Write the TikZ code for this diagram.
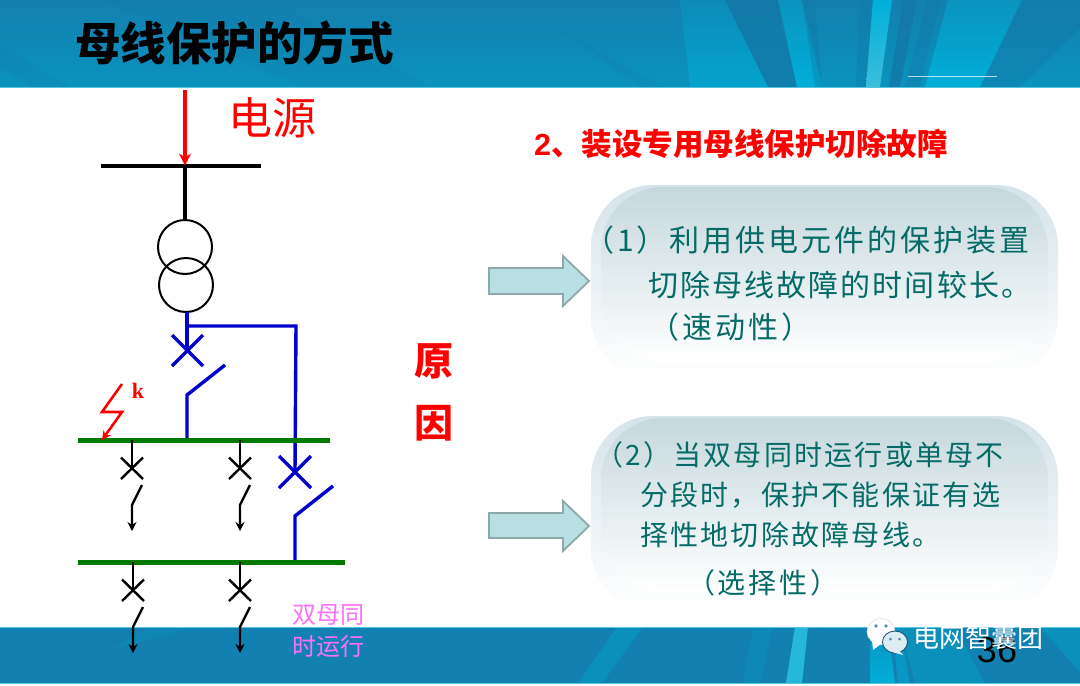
\documentclass[tikz,border=0pt]{standalone}
\usepackage{fontspec}
\setmainfont{Noto Sans CJK SC}
\newfontfamily\numf{Liberation Sans}
\newfontfamily\kf{Liberation Serif}
\usetikzlibrary{arrows.meta}
\definecolor{bandA}{HTML}{1280B0}
\definecolor{bandB}{HTML}{0A93BE}
\definecolor{rayL}{HTML}{00AFD9}
\definecolor{rayD}{HTML}{1278A8}
\definecolor{edgeL}{HTML}{55C4DE}
\definecolor{txtT}{HTML}{056B66}
\definecolor{boxT}{HTML}{C5D8DC}
\definecolor{boxO}{HTML}{D5E3EA}
\definecolor{arrF}{HTML}{B8DFE1}
\definecolor{arrE}{HTML}{8FA9AB}
\definecolor{pinkT}{HTML}{FF70F8}
\definecolor{busG}{HTML}{007A00}
\definecolor{blueL}{HTML}{0000CC}
\tikzset{
  sizeT/.style={font=\fontsize{#1}{#1}\selectfont},
  bodyA/.style={anchor=west,inner sep=0pt,text=txtT,font=\fontsize{30}{32}\selectfont\addfontfeature{LetterSpace=#1}},
  bodyB/.style={anchor=west,inner sep=0pt,text=txtT,font=\fontsize{28}{30}\selectfont\addfontfeature{LetterSpace=#1}},
  busbar/.style={draw=busG,line width=5pt},
  blk/.style={draw=black,line width=2.4pt},
  blu/.style={draw=blueL,line width=3.4pt},
  feed/.style={blk,-{Stealth[length=9pt,width=9pt]}},
  blockarrow/.style={fill=arrF,draw=arrE,line width=1.8pt,line join=miter},
  rounded/.style={rounded corners=62pt}
}
\begin{document}
\begin{tikzpicture}[x=1pt,y=-1pt]
\useasboundingbox (0,0) rectangle (1080,686);
\fill[white] (0,0) rectangle (1080,686);
% top band
\begin{scope}
\clip (0,0) rectangle (1080,87);
\shade[top color=bandA,bottom color=bandB] (0,0) rectangle (1080,87);
\fill[rayD,opacity=.2] (0,45) -- (70,87) -- (30,87) -- (0,68) -- cycle;
\fill[rayD,opacity=.18] (100,0) -- (270,0) -- (430,87) -- (300,87) -- cycle;
\fill[rayD,opacity=.2] (560,30) -- (640,87) -- (665,87) -- cycle;
\shade[top color=bandB,bottom color=rayL,opacity=.6] (690,87) -- (680,0) -- (725,0) -- (768,87) -- cycle;
\fill[rayD,opacity=.75] (725,0) -- (778,0) -- (797,87) -- (768,87) -- cycle;
\shade[top color=bandB,bottom color=rayL] (778,0) -- (802,0) -- (822,87) -- (797,87) -- cycle;
\fill[rayD,opacity=.4] (802,0) -- (815,0) -- (822,87) -- (815,87) -- cycle;
\fill[rayD,opacity=.4] (860,0) -- (872,0) -- (866,87) -- (856,87) -- cycle;
\shade[top color=rayL,bottom color=edgeL!70!rayL] (873,0) -- (892,0) -- (880,87) -- (866,87) -- cycle;
\fill[rayD,opacity=.8] (903,0) -- (917,0) -- (900,87) -- (889,87) -- cycle;
\fill[rayD,opacity=.4] (927,0) -- (940,0) -- (920,87) -- (905,87) -- cycle;
\shade[top color=bandB,bottom color=rayL] (948,0) -- (1022,0) -- (980,87) -- (925,87) -- cycle;
\fill[rayD,opacity=.4] (1022,0) -- (1080,0) -- (1080,28) -- (1020,87) -- (980,87) -- cycle;
\end{scope}
\draw[edgeL,line width=1pt] (0,87) -- (1080,87);
\draw[white,opacity=.7,line width=1pt] (908,76) -- (997,76);
% bottom band
\begin{scope}
\clip (0,627) rectangle (1080,683);
\fill[bandA] (0,627) rectangle (1080,683);
\fill[bandB,opacity=.4] (110,650) -- (195,627) -- (150,627) -- cycle;
\fill[bandB,opacity=.8] (578,683) -- (617,627) -- (643,627) -- (602,683) -- cycle;
\fill[bandB,opacity=.45] (742,683) -- (753,627) -- (773,627) -- (760,683) -- cycle;
\fill[edgeL!45!rayL] (786,683) -- (795,627) -- (808,627) -- (802,683) -- cycle;
\shade[top color=bandB,bottom color=rayL] (870,683) -- (870,627) -- (888,627) -- (895,683) -- cycle;
\fill[rayL,opacity=.5] (898,683) -- (892,627) -- (900,627) -- (910,683) -- cycle;
\fill[bandB,opacity=.8] (915,683) -- (900,627) -- (955,627) -- (985,683) -- cycle;
\fill[bandB,opacity=.8] (1040,627) -- (1080,627) -- (1080,672) -- cycle;
\end{scope}
\draw[edgeL,line width=.8pt] (0,627) -- (1080,627);
\draw[edgeL,line width=.8pt] (0,683) -- (1080,683);
% title & headings
\node[inner sep=0pt,anchor=west,font=\fontsize{45.5}{46}\bfseries\selectfont] (title) at (75,43) {母线保护的方式};
\node[inner sep=0pt,sizeT=44,text=red,anchor=west] (src) at (228,118) {电源};
\node[inner sep=0pt,text=red,anchor=west,font=\fontsize{30.5}{32}\bfseries\selectfont] (head) at (534,144) {{\numf 2}、装设专用母线保护切除故障};
\node[inner sep=0pt,text=red,font=\fontsize{39}{40}\bfseries\selectfont] (why1) at (434,361) {原};
\node[inner sep=0pt,text=red,font=\fontsize{39}{40}\bfseries\selectfont] (why2) at (434,423) {因};
% boxes
\shade[rounded,top color=boxO,middle color=boxO!55!white,bottom color=white] (591,185) rectangle (1058,378);
\shade[rounded,top color=boxT,bottom color=white] (601,187) rectangle (1048,362);
\shade[rounded,top color=boxO,middle color=boxO!55!white,bottom color=white] (591,416) rectangle (1058,610);
\shade[rounded,top color=boxT,bottom color=white] (601,418) rectangle (1048,592);
% block arrows
\draw[blockarrow] (489,268) -- (563,268) -- (563,256) -- (589,281) -- (563,306) -- (563,294) -- (489,294) -- cycle;
\draw[blockarrow] (489,513) -- (563,513) -- (563,501) -- (589,526) -- (563,551) -- (563,538) -- (489,538) -- cycle;
% text
\node[bodyA=10] (t1a) at (584,240) {（1）利用供电元件的保护装置};
\node[bodyA=7] (t1b) at (648,285) {切除母线故障的时间较长。};
\node[bodyA=10] (t1c) at (649,327) {（速动性）};
\node[bodyB=8] (t2a) at (595,455) {（2）当双母同时运行或单母不};
\node[bodyB=8] (t2b) at (640,495) {分段时，保护不能保证有选};
\node[bodyB=8] (t2c) at (640,535) {择性地切除故障母线。};
\node[bodyB=10] (t2d) at (687,583) {（选择性）};
% coordinates
\coordinate (srcTop) at (185,90);
\coordinate (barL) at (101,165.5);
\coordinate (barR) at (261,165.5);
\coordinate (barM) at (185,165.5);
\node[circle,draw=black,line width=2pt,minimum size=54pt,inner sep=0pt] (tr1) at (185,247) {};
\node[circle,draw=black,line width=2pt,minimum size=54pt,inner sep=0pt] (tr2) at (186,285) {};
\coordinate (bl1) at (187,312);
\coordinate (blT) at (187,326);
\coordinate (blC) at (296,326);
\coordinate (x1) at (187,350);
\coordinate (x2) at (295,472);
\coordinate (k1) at (122,384);
\coordinate (k2) at (102,412);
\coordinate (k3) at (122,412);
\coordinate (k4) at (102,440);
\coordinate (b1L) at (78,440);
\coordinate (b1R) at (330,440);
\coordinate (b2L) at (78,562);
\coordinate (b2R) at (345,562);
% source
\draw[line width=4pt,black] (barL) -- (barR);
\draw[line width=3.6pt,black] (barM) -- (tr1.north);
\draw[red,line width=3.2pt,-{Stealth[length=12pt,width=12pt]}] (srcTop) -- (barM);
% blue
\draw[blu] (bl1) -- (x1);
\draw[blu,line join=miter] (blT) -- (blC) -- (x2);
\draw[blu] (172,335) -- (203,366) (203,335) -- (172,366);
\draw[blu] (279,456) -- (311,488) (311,456) -- (279,488);
\draw[blu,line join=miter] (187,438) -- (187,395) -- (225,365);
\draw[blu,line join=miter] (295,562) -- (295,516) -- (333,486);
% buses
\draw[busbar] (b1L) -- (b1R);
\draw[busbar] (b2L) -- (b2R);
% fault
\draw[red,line width=2.6pt,line join=miter,-{Stealth[length=9pt,width=9pt]}] (k1) -- (k2) -- (k3) -- (k4);
\node[inner sep=0pt,text=red,font=\fontsize{22}{24}\bfseries\kf] (klab) at (138,391) {k};
% feeders
\foreach \x/\y/\n in {132/440/a,240/440/b,133/562/c,240/562/d}{
  \coordinate (f\n0) at (\x,\y);
  \coordinate (f\n1) at (\x,\y+28);
  \draw[blk] (f\n0) -- (f\n1);
  \draw[blk] (\x-11,\y+17.5) -- (\x+11,\y+39) (\x+11,\y+17.5) -- (\x-11,\y+39);
  \draw[feed] (\x+10,\y+45) -- (\x,\y+65) -- (\x,\y+91);
}
% pink
\node[inner sep=0pt,text=pinkT,sizeT=24,anchor=west] (p1) at (292,615) {双母同};
\node[inner sep=0pt,text=pinkT,sizeT=24,anchor=west] (p2) at (292,646) {时运行};
% watermark
\fill[white,draw=black!12,line width=.6pt] (881,631.5) ellipse (14 and 13);
\fill[white] (872,641) -- (873,650) -- (881,644) -- cycle;
\fill[bandA!15!white,draw=bandA!60!black,line width=.8pt] (895,642) ellipse (12.5 and 11);
\fill[bandA!15!white] (899,650) -- (903,655) -- (892,652) -- cycle;
\fill[bandA!70!black!70] (876,626) circle (1.8) (886,626) circle (1.8) (890.5,639) circle (1.5) (899.5,639) circle (1.5);
\node[inner sep=0pt,text=black,font=\fontsize{36}{36}\numf\selectfont] (page) at (997,650) {36};
\node[inner sep=0pt,text=white,sizeT=26,anchor=west] (wm) at (913,638) {电网智囊团};
\end{tikzpicture}
\end{document}
